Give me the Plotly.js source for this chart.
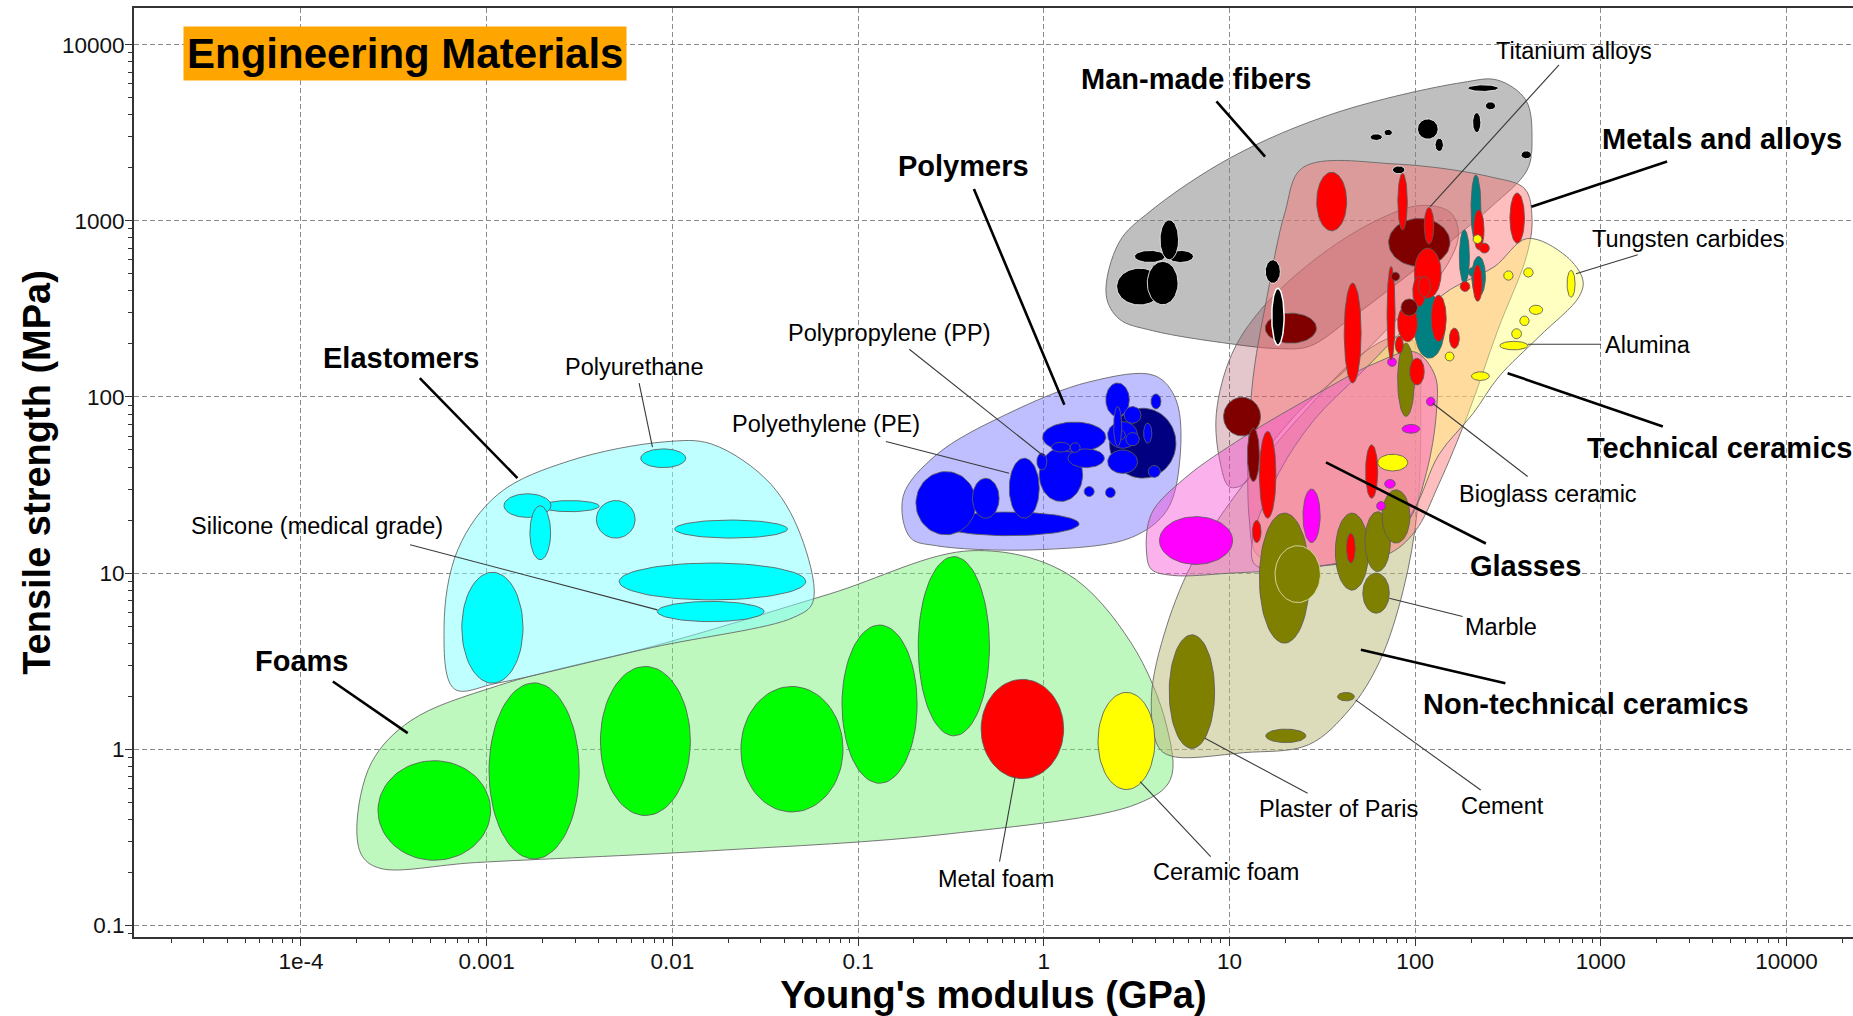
<!DOCTYPE html>
<html>
<head>
<meta charset="utf-8">
<title>Engineering Materials – Young's modulus vs tensile strength</title>
<script src="https://cdn.plot.ly/plotly-3.0.1.min.js"></script>
<style>
  html, body { margin: 0; padding: 0; background: #ffffff; }
  #chart { width: 1853px; height: 1016px; }
</style>
</head>
<body>
<div id="chart"></div>
<script>
// ---------------------------------------------------------------------------
// Material property ranges: [E min, E max (GPa), strength min, strength max (MPa)]
// ---------------------------------------------------------------------------
const foamRanges = [
  [2.6e-4, 1.05e-3, 0.234, 0.86],
  [1.03e-3, 3.15e-3, 0.238, 2.38],
  [4.1e-3, 0.0125, 0.42, 2.95],
  [0.0234, 0.083, 0.44, 2.27],
  [0.082, 0.208, 0.64, 5.07],
  [0.211, 0.51, 1.19, 12.4]
];
const metalFoamRange = [0.46, 1.28, 0.68, 2.49];
const ceramicFoamRange = [1.96, 3.97, 0.59, 2.1];

const elastomerRanges = [
  [7.35e-4, 1.57e-3, 2.37, 10.1],
  [6.76e-3, 0.0118, 39.7, 50.7],
  [1.96e-3, 4.04e-3, 22.3, 25.8],
  [1.24e-3, 2.22e-3, 20.7, 28.2],
  [1.71e-3, 2.21e-3, 11.9, 24.1],
  [3.9e-3, 6.3e-3, 15.8, 25.8],
  [0.0103, 0.0417, 15.8, 20],
  [5.17e-3, 0.0523, 7.04, 11.4],
  [8.3e-3, 0.0312, 5.3, 6.9]
];

const polymerRanges = [
  [0.274, 1.55, 16.3, 22.2],
  [0.205, 0.432, 16.5, 37.7],
  [0.413, 0.575, 20.5, 34.5],
  [0.652, 0.946, 20.5, 44.9],
  [0.946, 1.62, 25.5, 51.2],
  [0.986, 2.16, 48.6, 72],
  [1.35, 2.12, 39.7, 50.7],
  [0.918, 1.04, 38.5, 48],
  [1.10, 1.39, 48.6, 55.3],
  [1.39, 1.57, 48.4, 55],
  [1.65, 1.87, 27.2, 31],
  [2.15, 2.43, 26.8, 30.6]
];
const polymerDarkRange = [2.26, 5.15, 34.6, 86.3];
const polymerUpperRanges = [
  [2.16, 2.89, 77.4, 120],
  [3.78, 4.28, 85.5, 104],
  [2.21, 3.2, 51.1, 72.5],
  [2.71, 3.34, 70.8, 88.2],
  [2.77, 3.27, 52.8, 62.8],
  [2.43, 2.75, 57, 65],
  [3.45, 3.82, 54.6, 71],
  [2.21, 3.2, 36.8, 50],
  [3.65, 4.25, 34.9, 40.8],
  [2.38, 2.63, 52.4, 88.2]
];

const fiberRanges = [
  [2.47, 4.37, 333, 538],
  [3.08, 4.51, 580, 679],
  [4.66, 6.4, 580, 679],
  [3.61, 5.29, 334, 588],
  [4.23, 5.32, 601, 1012],
  [15.6, 18.8, 442, 601],
  [75.5, 88.1, 1850, 2050],
  [57.2, 66.6, 2860, 3120],
  [68, 75.4, 3040, 3310],
  [103, 133, 2910, 3790],
  [128, 142, 2477, 2945],
  [204, 226, 3170, 4120],
  [239, 271, 4270, 4740],
  [192, 281, 5430, 5920],
  [372, 423, 2250, 2497]
];
const fiberThinRange = [16.9, 19.7, 197, 414];

const nonTechRanges = [
  [4.74, 8.32, 1.01, 4.46],
  [15.7, 25.8, 1.09, 1.30],
  [38.2, 47.1, 1.88, 2.1],
  [14.5, 27, 4.0, 21.9],
  [17.6, 30.9, 6.8, 14.3],
  [37.2, 56.1, 8.0, 21.9],
  [53.7, 73.5, 10.2, 22.3],
  [66.4, 93.8, 14.8, 29.7],
  [52.3, 72.6, 5.92, 10],
  [80.5, 99.1, 77.5, 202]
];

const glassRanges = [
  [4.2, 10.4, 11.2, 20.9],
  [24.9, 30.8, 14.9, 30],
  [71.1, 79.3, 149, 167],
  [115, 128, 88.9, 99.7],
  [85, 106, 62.2, 69.8],
  [68.5, 78.2, 30.3, 34],
  [62, 69.2, 22.7, 25.5]
];

const compositeRanges = [
  [72, 154, 551, 1031],
  [15.6, 29.4, 202, 299],
  [9.3, 14.7, 60.1, 99.5],
  [12.5, 14.5, 33.1, 66.5]
];
const compositeSmallRanges = [
  [74.2, 82.6, 456, 511],
  [84, 103, 289, 360]
];

const nickelRanges = [
  [200, 226, 752, 1824],
  [173, 196, 442, 889],
  [202, 239, 372, 627],
  [99, 144, 166, 380],
  [193, 215, 484, 543]
];

const metalRanges = [
  [29.5, 42.8, 877, 1888],
  [80.7, 90.8, 888, 1862],
  [112, 126, 738, 1191],
  [99, 138, 363, 700],
  [97.1, 114, 326, 483],
  [104, 121, 371, 483],
  [122, 147, 206, 379],
  [153, 173, 189, 246],
  [41.5, 51.2, 120, 443],
  [70.6, 78, 162, 551],
  [80.5, 103, 206, 333],
  [78.2, 86.4, 177, 221],
  [93.5, 112, 117, 166],
  [324, 388, 747, 1439],
  [206, 235, 685, 1154],
  [205, 230, 349, 563],
  [222, 251, 656, 747],
  [175, 197, 397, 452],
  [54.1, 62.9, 26.6, 53.5],
  [14.5, 17.8, 20.5, 63.7],
  [13.3, 14.8, 14.9, 19.9],
  [42.7, 47.6, 11.4, 16.8]
];

const techCeramicRanges = [
  [658, 727, 368, 523],
  [300, 337, 460, 520],
  [384, 432, 479, 541],
  [412, 486, 294, 332],
  [366, 411, 254, 288],
  [331, 374, 214, 244],
  [286, 404, 185, 207],
  [201, 251, 124, 139],
  [145, 162, 160, 180],
  [62.9, 91.2, 38, 47.3],
  [205, 229, 743, 834]
];

// Family envelopes: outline vertices [E (GPa), strength (MPa)]
const foamEnvelope = [
  [2.0e-4, 0.36], [2.4e-4, 0.84], [3.9e-4, 1.45], [1.16e-3, 2.3], [9.1e-3, 4.0],
  [0.070, 7.6], [0.41, 13.4], [1.32, 10], [2.96, 4.0], [4.6, 1.34], [4.8, 0.67],
  [3.2, 0.49], [0.305, 0.33], [0.0163, 0.265], [8.7e-4, 0.227], [2.7e-4, 0.21], [2.15e-4, 0.245]
];
const elastomerEnvelope = [
  [6.7e-4, 2.2], [5.9e-4, 5.0], [7.0e-4, 13.6], [1.16e-3, 28.2], [2.8e-3, 43.4],
  [9.1e-3, 55.6], [0.0163, 54], [0.034, 31.9], [0.051, 14.7], [0.057, 6.8],
  [0.045, 5.6], [7.8e-3, 3.78], [1.16e-3, 2.38]
];
const polymerEnvelope = [
  [0.191, 15.9], [0.175, 27.3], [0.264, 46.9], [0.635, 80], [1.77, 122],
  [3.97, 132], [5.16, 96], [5.4, 43.4], [4.6, 22.7], [2.96, 15.9], [0.986, 13.6], [0.264, 14.3]
];
const fiberEnvelope = [
  [2.17, 378], [2.55, 757], [3.74, 1132], [10.3, 2303], [36.8, 4083], [179, 6100],
  [278, 6295], [395, 4840], [426, 2904], [401, 1944], [258, 1205], [159, 781],
  [80, 441], [44.5, 277], [27, 194], [18.5, 188], [10.3, 200], [3.85, 238], [2.55, 277]
];
const nonTechEnvelope = [
  [4.14, 1.03], [3.8, 1.97], [4.59, 4.99], [6.62, 12.6], [11.9, 31.9], [24.8, 80.5],
  [51.5, 175], [80, 220], [103, 197], [107, 94], [103, 23.4], [86.1, 7.93],
  [64.3, 3.14], [44.5, 1.69], [26.7, 1.06], [11.9, 0.955], [4.94, 0.91]
];
const glassEnvelope = [
  [3.58, 13.0], [3.8, 21.7], [5.72, 34.4], [11.9, 59.1], [28.7, 102], [59.7, 154],
  [99.7, 180], [128, 132], [130, 80.5], [115, 37.2], [92.7, 20], [59.7, 13.0],
  [28.7, 10.8], [10.3, 10], [4.94, 9.7], [3.8, 10.5]
];
const compositeEnvelope = [
  [8.88, 43.4], [8.5, 80.5], [10.3, 175], [14.8, 314], [28.7, 601], [59.7, 985],
  [107, 1222], [155, 1114], [171, 818], [134, 476], [80, 277], [44.5, 149],
  [24.8, 87.1], [16, 50.7], [11.9, 31.9], [9.98, 30.9]
];
const metalEnvelope = [
  [24.8, 2004], [80, 2099], [258, 1771], [390, 1517], [426, 1031], [401, 649],
  [278, 238], [193, 80.5], [134, 31.9], [99.7, 17.2], [69.2, 12.6], [24.8, 11.1],
  [14.2, 12.6], [12.8, 20], [13.2, 110], [16, 378], [19.9, 1114]
];
const techCeramicEnvelope = [
  [13.8, 11.1], [13.4, 15.9], [18.5, 37.2], [28.7, 74.5], [51.5, 138], [92.7, 257],
  [155, 408], [266, 547], [401, 793], [651, 630], [800, 462], [765, 372], [465, 220],
  [282, 130], [205, 80.5], [134, 46.9], [99.7, 23.4], [69.2, 14.3], [33.2, 11.1]
];

// Axis ticks
const xTickVals = [1e-4, 1e-3, 1e-2, 1e-1, 1, 10, 100, 1000, 10000];
const xTickText = ['1e-4', '0.001', '0.01', '0.1', '1', '10', '100', '1000', '10000'];
const yTickVals = [0.1, 1, 10, 100, 1000, 10000];
const yTickText = ['0.1', '1', '10', '100', '1000', '10000'];

// Labels: text, position in decades [log10 E, log10 strength], bold flag
const labelText = [
  'Man-made fibers', 'Metals and alloys', 'Titanium alloys', 'Tungsten carbides', 'Alumina',
  'Technical ceramics', 'Bioglass ceramic', 'Glasses', 'Marble', 'Non-technical ceramics',
  'Cement', 'Plaster of Paris', 'Ceramic foam', 'Metal foam', 'Foams', 'Elastomers',
  'Polyurethane', 'Silicone (medical grade)', 'Polypropylene (PP)', 'Polyethylene (PE)', 'Polymers'
];
const labelPos = [
  [0.821, 3.805], [3.654, 3.463], [2.858, 3.966], [3.469, 2.899], [3.253, 2.295],
  [3.640, 1.711], [2.718, 1.450], [2.597, 1.040], [2.463, 0.691], [2.922, 0.255],
  [2.470, -0.322], [1.585, -0.342], [0.980, -0.698], [-0.255, -0.738], [-3.997, 0.503],
  [-3.463, 2.221], [-2.202, 2.168], [-3.915, 1.268], [-0.834, 2.362], [-1.171, 1.846],
  [-0.433, 3.309]
];
const labelBold = [
  true, true, false, false, false, true, false, true, false, true,
  false, false, false, false, true, true, false, false, false, false, true
];
// Leader lines for each label: [x1, y1, x2, y2] in decades
const leaderLines = [
  [0.930, 3.678, 1.192, 3.365],
  [3.357, 3.337, 2.626, 3.080],
  [2.775, 3.886, 2.081, 3.081],
  [3.199, 2.807, 2.866, 2.699],
  [3.001, 2.299, 2.606, 2.299],
  [3.334, 1.832, 2.498, 2.135],
  [2.606, 1.548, 2.094, 1.964],
  [2.381, 1.168, 1.520, 1.628],
  [2.256, 0.753, 1.861, 0.857],
  [2.486, 0.374, 1.708, 0.564],
  [2.353, -0.232, 1.679, 0.280],
  [1.421, -0.250, 0.868, 0.062],
  [0.899, -0.610, 0.519, -0.184],
  [-0.238, -0.638, -0.154, -0.156],
  [-3.828, 0.384, -3.425, 0.091],
  [-3.360, 2.107, -2.834, 1.539],
  [-2.179, 2.078, -2.107, 1.715],
  [-3.412, 1.161, -2.080, 0.791],
  [-0.724, 2.271, 0.003, 1.662],
  [-0.850, 1.747, -0.186, 1.567],
  [-0.376, 3.181, 0.111, 1.955]
];

// ---------------------------------------------------------------------------
// Drawing helpers
// ---------------------------------------------------------------------------
const FONT = 'Liberation Sans, Arial, Helvetica, sans-serif';
const EDGE = 'rgba(90,90,90,0.85)';
const traces = [];

function envelope(points, fill) {
  const x = points.map(p => p[0]);
  const y = points.map(p => p[1]);
  x.push(points[0][0]);
  y.push(points[0][1]);
  traces.push({
    type: 'scatter', mode: 'lines', x: x, y: y, fill: 'toself', fillcolor: fill,
    line: { color: 'rgba(105,105,105,0.9)', width: 1, shape: 'spline', smoothing: 1 },
    hoverinfo: 'skip', showlegend: false
  });
}

// Ellipse inscribed in a property-range box, drawn in log space
function bubble(r, fill, edge, width) {
  const lx0 = Math.log10(r[0]), lx1 = Math.log10(r[1]);
  const ly0 = Math.log10(r[2]), ly1 = Math.log10(r[3]);
  const cx = (lx0 + lx1) / 2, ax = (lx1 - lx0) / 2;
  const cy = (ly0 + ly1) / 2, ay = (ly1 - ly0) / 2;
  const x = [], y = [];
  const n = 72;
  for (let i = 0; i <= n; i++) {
    const t = 2 * Math.PI * i / n;
    x.push(Math.pow(10, cx + ax * Math.cos(t)));
    y.push(Math.pow(10, cy + ay * Math.sin(t)));
  }
  traces.push({
    type: 'scatter', mode: 'lines', x: x, y: y, fill: 'toself', fillcolor: fill,
    line: { color: edge || EDGE, width: width || 1 },
    hoverinfo: 'skip', showlegend: false
  });
}

// Envelopes (translucent families); glasses sit on top of the ceramic/metal overlap
envelope(foamEnvelope, 'rgba(110,240,110,0.45)');
envelope(elastomerEnvelope, 'rgba(128,255,255,0.5)');
envelope(polymerEnvelope, 'rgba(128,128,255,0.5)');
envelope(fiberEnvelope, 'rgba(128,128,128,0.5)');
envelope(nonTechEnvelope, 'rgba(185,185,120,0.5)');
envelope(compositeEnvelope, 'rgba(140,20,40,0.24)');
envelope(metalEnvelope, 'rgba(255,110,110,0.45)');
envelope(techCeramicEnvelope, 'rgba(255,255,120,0.45)');
envelope(glassEnvelope, 'rgba(245,70,210,0.42)');

// Individual materials
foamRanges.forEach(r => bubble(r, '#00ff00'));
bubble(metalFoamRange, '#ff0000');
bubble(ceramicFoamRange, '#ffff00');
elastomerRanges.forEach(r => bubble(r, '#00ffff'));
polymerRanges.forEach(r => bubble(r, '#0000ff'));
bubble(polymerDarkRange, '#000080');
polymerUpperRanges.forEach(r => bubble(r, '#0000ff'));
fiberRanges.forEach(r => bubble(r, '#000000', 'rgba(235,235,235,0.9)'));
nonTechRanges.forEach((r, i) => bubble(r, '#808000', i === 4 ? 'rgba(215,215,170,0.95)' : EDGE));
glassRanges.forEach(r => bubble(r, '#ff00ff'));
compositeRanges.forEach(r => bubble(r, '#800000'));
bubble(fiberThinRange, '#000000', '#ffffff', 1.5);
nickelRanges.forEach(r => bubble(r, '#008080'));
metalRanges.forEach(r => bubble(r, '#ff0000'));
compositeSmallRanges.forEach(r => bubble(r, '#800000'));
techCeramicRanges.forEach(r => bubble(r, '#ffff00'));

// Leader lines
leaderLines.forEach((l, i) => {
  traces.push({
    type: 'scatter', mode: 'lines',
    x: [Math.pow(10, l[0]), Math.pow(10, l[2])],
    y: [Math.pow(10, l[1]), Math.pow(10, l[3])],
    line: { color: labelBold[i] ? '#000000' : '#3a3a3a', width: labelBold[i] ? 2.6 : 1.1 },
    hoverinfo: 'skip', showlegend: false
  });
});

// Text labels
const annotations = labelText.map((t, i) => ({
  x: labelPos[i][0], y: labelPos[i][1], xref: 'x', yref: 'y',
  text: t, showarrow: false, xanchor: 'center', yanchor: 'middle',
  font: { family: FONT, size: labelBold[i] ? 29 : 23.5, color: '#000000', weight: labelBold[i] ? 'bold' : 'normal' }
}));
annotations.push({
  x: -3.437, y: 3.953, xref: 'x', yref: 'y',
  text: 'Engineering Materials', showarrow: false, xanchor: 'center', yanchor: 'middle',
  bgcolor: '#ffa500', borderpad: 3,
  font: { family: FONT, size: 42, color: '#000000', weight: 'bold' }
});

const axisCommon = {
  type: 'log', tickmode: 'array', ticks: 'outside', ticklen: 7, tickwidth: 1, tickcolor: '#333333',
  tickfont: { family: FONT, size: 22.5, color: '#111111' },
  ticklabelstandoff: -4,
  showline: true, linecolor: '#333333', linewidth: 2,
  showgrid: true, gridcolor: '#8a8a8a', gridwidth: 1, griddash: '5px,3px',
  zeroline: false, automargin: false,
  minor: { dtick: 'D1', ticks: 'outside', ticklen: 4, tickwidth: 1, tickcolor: '#333333', showgrid: false }
};

const layout = {
  width: 1853, height: 1016,
  margin: { l: 134, r: 0, t: 8, b: 79 },
  paper_bgcolor: '#ffffff', plot_bgcolor: '#ffffff',
  showlegend: false, hovermode: false,
  font: { family: FONT, color: '#000000' },
  xaxis: Object.assign({}, axisCommon, {
    range: [-4.899, 4.358], tickvals: xTickVals, ticktext: xTickText, mirror: true,
    title: { text: "Young's modulus (GPa)", standoff: 5,
             font: { family: FONT, size: 38, color: '#000000', weight: 'bold' } }
  }),
  yaxis: Object.assign({}, axisCommon, {
    range: [-1.0665, 4.2085], tickvals: yTickVals, ticktext: yTickText, mirror: false,
    title: { text: 'Tensile strength (MPa)', standoff: 0,
             font: { family: FONT, size: 38, color: '#000000', weight: 'bold' } }
  }),
  annotations: annotations
};

Plotly.newPlot('chart', traces, layout, { displayModeBar: false, staticPlot: true });
</script>
</body>
</html>
